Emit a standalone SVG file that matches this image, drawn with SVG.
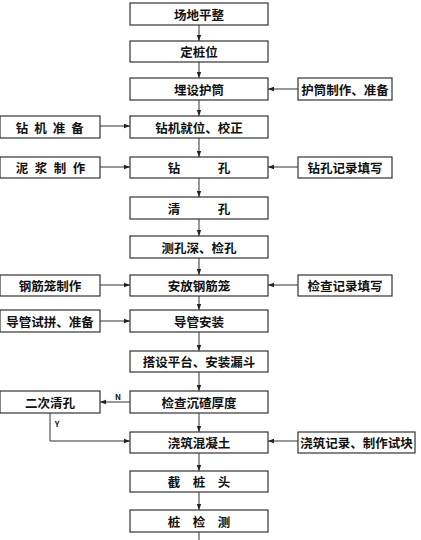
<svg xmlns="http://www.w3.org/2000/svg" width="421" height="540" viewBox="0 0 421 540">
<defs>
<marker id="ah" markerWidth="6" markerHeight="6" refX="6" refY="3" orient="auto" markerUnits="userSpaceOnUse">
<path d="M0,0.8 L6,3 L0,5.2 Z" fill="#222"/>
</marker>
</defs>
<style>
rect{fill:#fff;stroke:#333;stroke-width:1.2}
text{font-family:"Noto Sans CJK SC","Noto Sans CJK JP",sans-serif;font-weight:bold;font-size:12.5px;fill:#111;text-anchor:middle;dominant-baseline:central}
.c line,.c polyline{stroke:#333;stroke-width:1;fill:none}
.s{font-size:8px}
</style>
<rect x="0" y="0" width="421" height="540" style="fill:#fff;stroke:none"/>
<g class="c">
<line x1="199" y1="25" x2="199" y2="41" marker-end="url(#ah)"/>
<line x1="199" y1="62" x2="199" y2="78" marker-end="url(#ah)"/>
<line x1="199" y1="100" x2="199" y2="116" marker-end="url(#ah)"/>
<line x1="199" y1="138" x2="199" y2="157" marker-end="url(#ah)"/>
<line x1="199" y1="178" x2="199" y2="197" marker-end="url(#ah)"/>
<line x1="199" y1="219" x2="199" y2="236" marker-end="url(#ah)"/>
<line x1="199" y1="258" x2="199" y2="275" marker-end="url(#ah)"/>
<line x1="199" y1="296" x2="199" y2="310" marker-end="url(#ah)"/>
<line x1="199" y1="332" x2="199" y2="351" marker-end="url(#ah)"/>
<line x1="199" y1="372" x2="199" y2="391" marker-end="url(#ah)"/>
<line x1="199" y1="413" x2="199" y2="432" marker-end="url(#ah)"/>
<line x1="199" y1="453" x2="199" y2="471" marker-end="url(#ah)"/>
<line x1="199" y1="492" x2="199" y2="510" marker-end="url(#ah)"/>
<line x1="199" y1="532" x2="199" y2="540"/>
<line x1="298" y1="89" x2="268" y2="89" marker-end="url(#ah)"/>
<line x1="100" y1="126" x2="130" y2="126" marker-end="url(#ah)"/>
<line x1="100" y1="167" x2="130" y2="167" marker-end="url(#ah)"/>
<line x1="298" y1="167" x2="268" y2="167" marker-end="url(#ah)"/>
<line x1="100" y1="285" x2="130" y2="285" marker-end="url(#ah)"/>
<line x1="298" y1="285" x2="268" y2="285" marker-end="url(#ah)"/>
<line x1="100" y1="321" x2="130" y2="321" marker-end="url(#ah)"/>
<line x1="130" y1="402" x2="100" y2="402" marker-end="url(#ah)"/>
<polyline points="50,413 50,441 130,441" marker-end="url(#ah)"/>
<line x1="298" y1="441" x2="268" y2="441" marker-end="url(#ah)"/>
</g>
<text class="s" x="118" y="396">N</text>
<text class="s" x="57" y="423">Y</text>
<g id="n1"><rect x="130" y="3" width="138" height="22"/><text x="199" y="14">场地平整</text></g>
<g id="n2"><rect x="130" y="41" width="138" height="21"/><text x="199" y="51.5">定桩位</text></g>
<g id="n3"><rect x="130" y="78" width="138" height="22"/><text x="199" y="89">埋设护筒</text></g>
<g id="n3r"><rect x="298" y="78" width="94" height="22"/><text x="345" y="89">护筒制作、准备</text></g>
<g id="n4"><rect x="130" y="116" width="138" height="22"/><text x="199" y="127">钻机就位、校正</text></g>
<g id="n4l"><rect x="0" y="116" width="100" height="22"/><text x="22 40.5 59 77.5" y="127">钻机准备</text></g>
<g id="n5"><rect x="130" y="157" width="138" height="21"/><text x="199" y="167.5">钻　　　孔</text></g>
<g id="n5l"><rect x="0" y="157" width="100" height="21"/><text x="22 41 60 79" y="167.5">泥浆制作</text></g>
<g id="n5r"><rect x="298" y="157" width="94" height="21"/><text x="345" y="167.5">钻孔记录填写</text></g>
<g id="n6"><rect x="130" y="197" width="138" height="22"/><text x="199" y="208">清　　　孔</text></g>
<g id="n7"><rect x="130" y="236" width="138" height="22"/><text x="199" y="247">测孔深、检孔</text></g>
<g id="n8"><rect x="130" y="275" width="138" height="21"/><text x="199" y="285.5">安放钢筋笼</text></g>
<g id="n8l"><rect x="0" y="275" width="100" height="21"/><text x="50" y="285.5">钢筋笼制作</text></g>
<g id="n8r"><rect x="298" y="275" width="94" height="21"/><text x="345" y="285.5">检查记录填写</text></g>
<g id="n9"><rect x="130" y="310" width="138" height="22"/><text x="199" y="321">导管安装</text></g>
<g id="n9l"><rect x="0" y="310" width="100" height="22"/><text x="50" y="321">导管试拼、准备</text></g>
<g id="n10"><rect x="130" y="351" width="138" height="21"/><text x="199" y="361.5">搭设平台、安装漏斗</text></g>
<g id="n11"><rect x="130" y="391" width="138" height="22"/><text x="199" y="402">检查沉碴厚度</text></g>
<g id="n11l"><rect x="0" y="391" width="100" height="22"/><text x="50" y="402">二次清孔</text></g>
<g id="n12"><rect x="130" y="432" width="138" height="21"/><text x="199" y="442.5">浇筑混凝土</text></g>
<g id="n12r"><rect x="298" y="432" width="117" height="21"/><text x="356.5" y="442.5">浇筑记录、制作试块</text></g>
<g id="n13"><rect x="130" y="471" width="138" height="21"/><text x="199" y="481.5">截　桩　头</text></g>
<g id="n14"><rect x="130" y="510" width="138" height="22"/><text x="199" y="521">桩　检　测</text></g>
</svg>
